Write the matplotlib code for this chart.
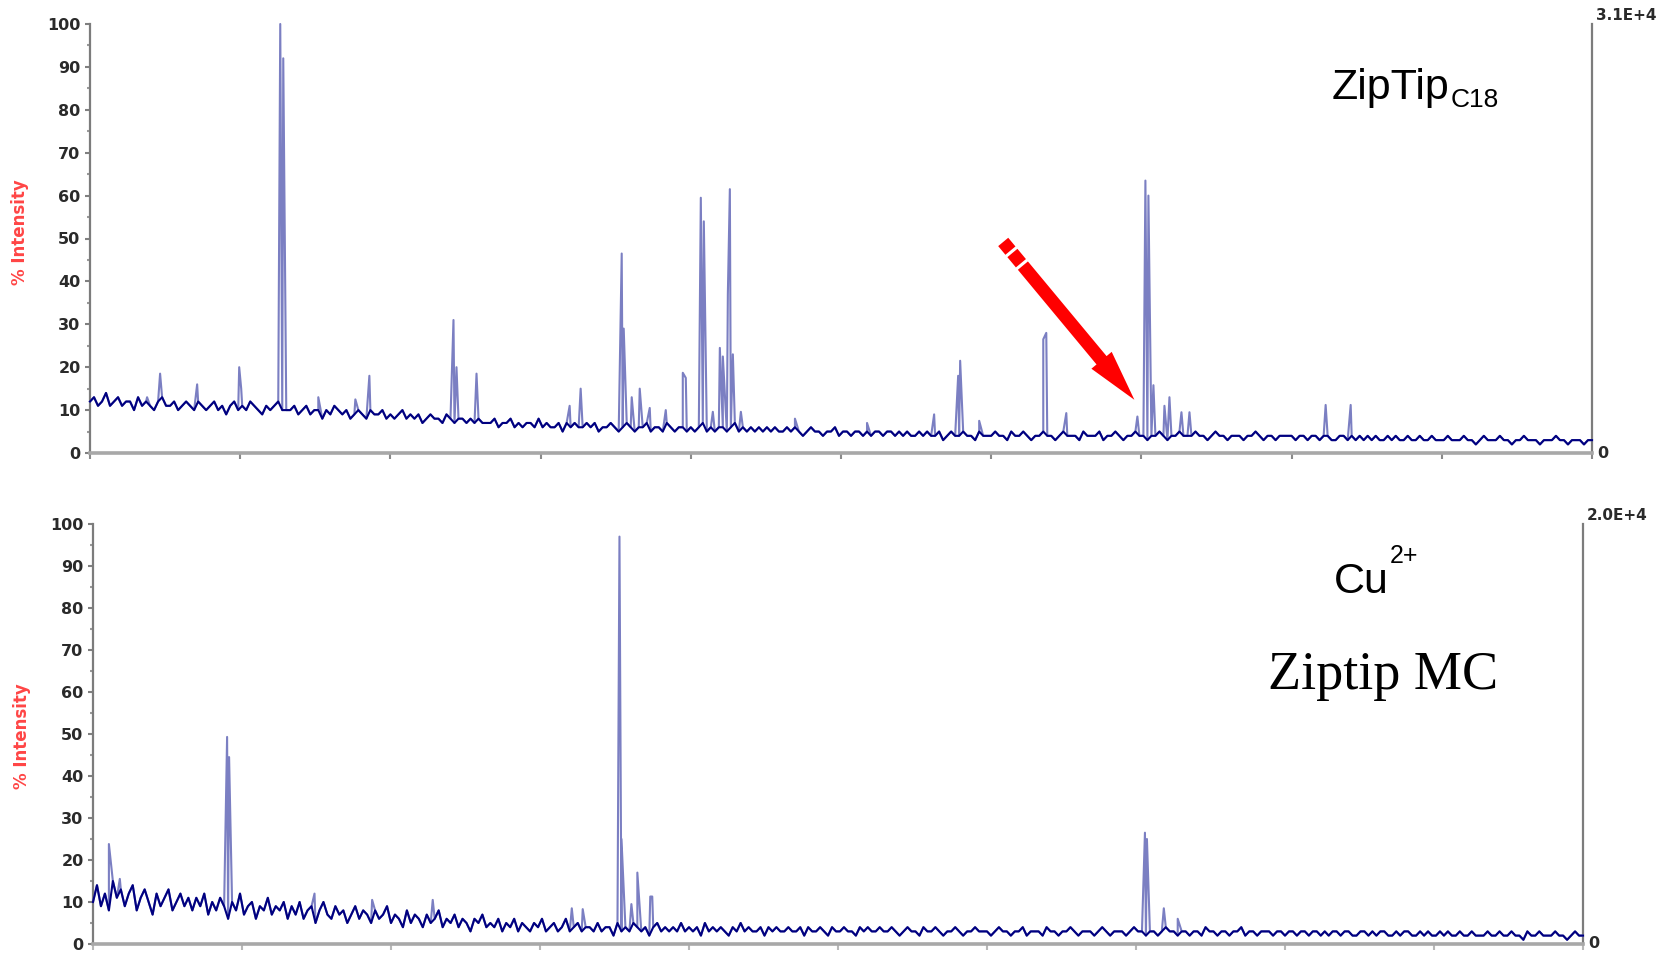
import matplotlib
matplotlib.use("Agg")
import matplotlib.pyplot as plt
import numpy as np
from matplotlib.patches import FancyArrowPatch, ArrowStyle
from matplotlib import font_manager as fm

# ---------------- data ----------------
x_min, x_max = 0, 1500
x_tick_step = 150
sample_step = 4          # spacing of the sampled baseline profile (x units)

# Top spectrum (ZipTip C18): sampled baseline profile, % intensity
top_profile = [
    12, 13, 11, 12, 14, 11, 12, 13, 11, 12, 12, 10, 13, 11, 12, 11, 10, 12, 13, 11, 11, 12, 10, 11, 12,
    11, 10, 12, 11, 10, 11, 12, 10, 11, 9, 11, 12, 10, 11, 10, 12, 11, 10, 9, 11, 10, 11, 12, 10, 10,
    10, 11, 9, 10, 11, 9, 10, 10, 8, 10, 9, 11, 10, 9, 10, 8, 9, 10, 9, 8, 10, 9, 9, 10, 8,
    9, 8, 9, 10, 8, 9, 8, 9, 7, 8, 9, 8, 8, 7, 9, 8, 7, 8, 8, 7, 8, 7, 8, 7, 7,
    7, 8, 6, 7, 7, 8, 6, 7, 6, 7, 7, 6, 8, 6, 7, 6, 6, 7, 5, 7, 6, 7, 6, 6, 7,
    6, 7, 5, 6, 6, 7, 6, 5, 6, 7, 6, 5, 6, 6, 7, 5, 6, 6, 5, 7, 6, 5, 6, 6, 5,
    6, 5, 6, 7, 5, 6, 5, 6, 6, 5, 6, 7, 5, 6, 5, 6, 5, 6, 5, 6, 5, 6, 5, 5, 6,
    5, 6, 5, 4, 5, 6, 5, 5, 4, 5, 5, 6, 4, 5, 5, 4, 5, 5, 4, 5, 4, 5, 5, 4, 5,
    5, 4, 5, 4, 5, 4, 4, 5, 4, 5, 4, 4, 5, 3, 4, 5, 4, 4, 5, 4, 4, 3, 5, 4, 4,
    4, 5, 4, 4, 3, 5, 4, 4, 5, 4, 3, 4, 4, 5, 4, 4, 3, 4, 5, 4, 4, 4, 3, 5, 4,
    4, 4, 5, 3, 4, 4, 5, 4, 3, 4, 4, 5, 4, 4, 3, 4, 4, 5, 4, 3, 4, 4, 5, 4, 4,
    4, 5, 4, 4, 3, 4, 5, 4, 4, 3, 4, 4, 4, 3, 4, 4, 5, 4, 3, 4, 4, 3, 4, 4, 4,
    4, 3, 4, 4, 3, 4, 4, 3, 4, 4, 3, 3, 4, 4, 3, 4, 3, 4, 3, 4, 3, 4, 3, 3, 4,
    3, 4, 3, 3, 4, 3, 3, 4, 3, 3, 4, 3, 3, 3, 4, 3, 3, 3, 4, 3, 3, 2, 3, 4, 3,
    3, 3, 4, 3, 3, 2, 3, 3, 4, 3, 3, 3, 2, 3, 3, 3, 4, 3, 3, 2, 3, 3, 3, 2, 3,
    3,
]
top_peak_x = [57, 70, 107, 149, 151, 190, 193, 228, 265, 279, 363, 366, 386,
              479, 490, 531, 533, 541, 549, 559, 575, 592, 595, 610, 613, 622,
              629, 632, 637, 639, 642, 650, 704, 776, 843, 867, 869, 888, 952,
              955, 975, 1046, 1054, 1057, 1062, 1073, 1078, 1090, 1098, 1234, 1259]
top_peak_y = [13, 18.5, 16, 20, 15, 100, 92, 13, 12.5, 18, 31, 20, 18.5,
              11, 15, 46.5, 29, 13, 15, 10.5, 10, 18.7, 17.5, 59.5, 54, 9.6,
              24.5, 22.5, 37, 61.5, 23, 9.6, 8, 7, 9, 18, 21.5, 7.5, 26.5,
              28, 9.3, 8.5, 63.5, 60, 15.8, 11, 13, 9.5, 9.5, 11.2, 11.2]

# Bottom spectrum (Cu2+ Ziptip MC)
bottom_profile = [
    10, 14, 9, 12, 8, 15, 11, 13, 9, 12, 14, 8, 11, 13, 10, 7, 12, 9, 11, 13, 8, 10, 12, 9, 11,
    8, 11, 9, 12, 7, 10, 8, 11, 9, 6, 10, 8, 12, 7, 9, 10, 6, 9, 8, 11, 7, 9, 8, 10, 6,
    9, 7, 10, 6, 8, 9, 5, 8, 10, 7, 6, 9, 7, 8, 5, 7, 9, 6, 8, 7, 5, 8, 6, 7, 9,
    5, 7, 6, 4, 8, 5, 7, 6, 4, 7, 5, 6, 8, 4, 6, 5, 7, 4, 6, 5, 3, 6, 5, 7, 4,
    5, 4, 6, 3, 5, 4, 6, 3, 5, 4, 3, 5, 4, 6, 3, 4, 5, 3, 4, 6, 3, 4, 5, 3, 4,
    4, 3, 5, 3, 4, 4, 2, 5, 3, 4, 3, 5, 4, 3, 4, 2, 4, 5, 3, 4, 3, 4, 3, 5, 3,
    4, 3, 4, 2, 5, 3, 4, 3, 4, 3, 2, 4, 3, 5, 3, 4, 3, 3, 4, 2, 4, 3, 4, 3, 3,
    4, 3, 3, 4, 2, 4, 3, 3, 4, 3, 2, 4, 3, 3, 4, 3, 3, 2, 4, 3, 4, 3, 3, 4, 3,
    3, 4, 3, 2, 3, 4, 3, 3, 2, 4, 3, 3, 4, 3, 2, 3, 3, 4, 3, 2, 3, 3, 4, 3, 3,
    3, 2, 3, 4, 3, 3, 2, 3, 3, 4, 2, 3, 3, 3, 2, 4, 3, 3, 2, 3, 3, 4, 3, 2, 3,
    3, 3, 2, 3, 4, 3, 2, 3, 3, 3, 2, 3, 4, 3, 3, 2, 3, 3, 2, 3, 4, 3, 3, 2, 3,
    3, 2, 3, 3, 2, 4, 3, 3, 2, 3, 3, 2, 3, 3, 4, 2, 3, 3, 2, 3, 3, 3, 2, 3, 3,
    2, 3, 3, 2, 3, 3, 2, 3, 3, 2, 3, 2, 3, 3, 2, 3, 3, 2, 2, 3, 3, 2, 3, 2, 3,
    3, 2, 2, 3, 2, 3, 3, 2, 2, 3, 2, 3, 2, 2, 3, 2, 3, 2, 2, 3, 2, 2, 3, 2, 2,
    2, 3, 2, 2, 3, 2, 2, 3, 2, 2, 1, 3, 2, 2, 3, 2, 2, 2, 3, 2, 2, 1, 2, 3, 2,
    2,
]
bottom_peak_x = [16, 27, 135, 137, 223, 281, 342, 482, 493, 530, 532, 542, 548,
                 561, 563, 1059, 1061, 1078, 1092]
bottom_peak_y = [23.8, 15.5, 49.3, 44.5, 12, 10.5, 10.5, 8.5, 8.3, 97, 25, 9.5, 17,
                 11.3, 11.3, 26.5, 25, 8.5, 6]

y_major = list(range(0, 101, 10))
y_minor = list(range(5, 100, 10))
y_label = "% Intensity"
top_scale = "3.1E+4"
bottom_scale = "2.0E+4"

# ---------------- figure ----------------
W, H, DPI = 1664, 960, 100
fig = plt.figure(figsize=(W / DPI, H / DPI), dpi=DPI)
fig.patch.set_facecolor("white")


def fx(px):
    return px / W


def fy(py):
    return 1 - py / H


ax1 = fig.add_axes([fx(90), fy(453), (1592 - 90) / W, (453 - 24) / H])
ax2 = fig.add_axes([fx(93), fy(944), (1583 - 93) / W, (944 - 524) / H])


def build(profile, px, py):
    bx = np.arange(len(profile)) * sample_step
    x = np.concatenate([bx, np.asarray(px, float)])
    y = np.concatenate([np.asarray(profile, float), np.asarray(py, float)])
    order = np.argsort(x, kind="stable")
    return x[order], y[order]


def style(ax, xtick_color):
    ax.set_xlim(x_min, x_max)
    ax.set_ylim(0, 100)
    ax.set_facecolor("white")
    ax.spines["top"].set_visible(False)
    for s in ("left", "right"):
        ax.spines[s].set_color("#7c7c7c")
        ax.spines[s].set_linewidth(1.6)
    ax.spines["bottom"].set_color("#a8a8a8")
    ax.spines["bottom"].set_linewidth(2.6)
    ax.set_xticks(np.arange(x_min, x_max + 1, x_tick_step))
    ax.set_xticklabels([])
    ax.tick_params(axis="x", which="major", direction="out", length=4,
                   width=1.5, color=xtick_color)
    ax.set_yticks(y_major)
    ax.set_yticklabels([str(v) for v in y_major])
    ax.set_yticks(y_minor, minor=True)
    ax.tick_params(axis="y", which="major", direction="out", length=3.6,
                   width=1.5, color="#808080", pad=3.2, labelsize=11.5,
                   labelcolor="#2a2a2a")
    ax.tick_params(axis="y", which="minor", direction="out", length=2.2,
                   width=1.5, color="#9a9a9a")
    for lab in ax.get_yticklabels():
        lab.set_fontweight("bold")
    ax.annotate("0", xy=(1, 0), xycoords="axes fraction", xytext=(4, 0),
                textcoords="offset points", ha="left", va="center",
                fontsize=11.5, fontweight="bold", color="#2a2a2a")


for ax, prof, pxs, pys, scale, tc in (
        (ax1, top_profile, top_peak_x, top_peak_y, top_scale, "#8a8a8a"),
        (ax2, bottom_profile, bottom_peak_x, bottom_peak_y, bottom_scale, "#b8b8b8")):
    style(ax, tc)
    xs, ys = build(prof, pxs, pys)
    # full trace (peaks show as lighter thin spikes)
    ax.plot(xs, ys, color="#7b7fc2", lw=1.5, clip_on=False, zorder=3)
    # dense baseline trace in dark navy
    bx = np.arange(len(prof)) * sample_step
    ax.plot(bx, prof, color="#000080", lw=1.5, clip_on=False, zorder=4)
    ax.annotate(scale, xy=(1, 1), xycoords="axes fraction", xytext=(3, 6),
                textcoords="offset points", ha="left", va="center",
                fontsize=11, fontweight="bold", color="#2a2a2a",
                annotation_clip=False)

# y labels
fig.text(fx(20), fy(232), y_label, rotation=90, ha="center", va="center",
         fontsize=12, fontweight="bold", color="#ff4545")
fig.text(fx(22), fy(736), y_label, rotation=90, ha="center", va="center",
         fontsize=12, fontweight="bold", color="#ff4545")

# panel annotations -- pick a narrow sans face if one is installed
installed = {f.name for f in fm.fontManager.ttflist}
if "Liberation Sans Narrow" in installed:
    sans, big, small, sup = "Liberation Sans Narrow", 36, 22, 21
else:
    sans, big, small, sup = "Liberation Sans", 31, 19, 18
renderer = fig.canvas.get_renderer()


def composite(main, extra, center_x, base_y, extra_y, size_main, size_extra):
    t1 = fig.text(0, fy(base_y), main, fontsize=size_main, family=sans,
                  ha="left", va="baseline", color="black")
    t2 = fig.text(0, fy(extra_y), extra, fontsize=size_extra, family=sans,
                  ha="left", va="baseline", color="black")
    w1 = t1.get_window_extent(renderer=renderer).width
    w2 = t2.get_window_extent(renderer=renderer).width
    x0 = center_x - (w1 + 1 + w2) / 2
    t1.set_x(fx(x0))
    t2.set_x(fx(x0 + w1 + 1))


composite("ZipTip", "C18", 1415, 99, 107, big, small)
composite("Cu", "2+", 1376, 593, 563, big, sup)

fig.text(fx(1268), fy(689), "Ziptip MC", fontsize=39,
         family=["Liberation Serif", "DejaVu Serif"], ha="left",
         va="baseline", color="black")

# red arrow (in top-axis data coordinates)
tail = np.array([912.0, 49.2])
tip = np.array([1043.0, 12.4])


def along(f):
    return tail + (tip - tail) * f


for f0, f1 in ((0.0, 0.055), (0.07, 0.135)):
    p0, p1 = along(f0), along(f1)
    ax1.plot([p0[0], p1[0]], [p0[1], p1[1]], color="red", lw=9.4,
             solid_capstyle="butt", clip_on=False, zorder=5)
start = along(0.15)
arrow = FancyArrowPatch(posA=tuple(start), posB=tuple(tip),
                        arrowstyle=ArrowStyle.Simple(head_length=37,
                                                     head_width=19,
                                                     tail_width=9.4),
                        mutation_scale=1, color="red", lw=0,
                        shrinkA=0, shrinkB=0, zorder=5, clip_on=False)
ax1.add_patch(arrow)

fig.savefig("out.png", dpi=DPI, facecolor="white")
